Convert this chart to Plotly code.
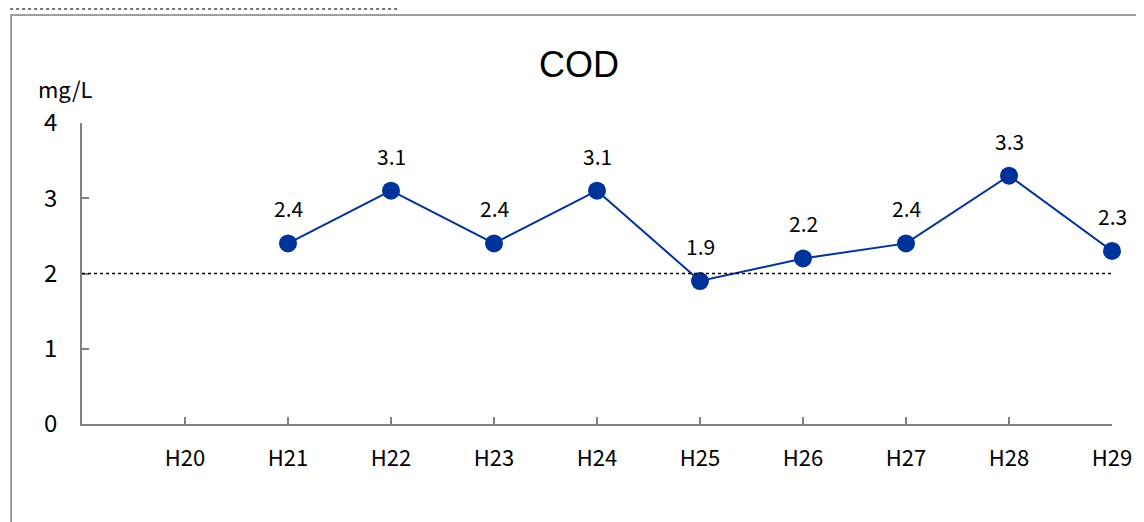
import plotly.graph_objects as go

categories = ["H20", "H21", "H22", "H23", "H24", "H25", "H26", "H27", "H28", "H29"]
cod_values = [None, 2.4, 3.1, 2.4, 3.1, 1.9, 2.2, 2.4, 3.3, 2.3]
standard_value = 2
y_ticks = [0, 1, 2, 3, 4]

FONT = "Noto Sans CJK JP"
BLUE = "#003399"
GRAY = "#808080"

xs = list(range(len(categories)))
pts_x = [x for x, v in zip(xs, cod_values) if v is not None]
pts_y = [v for v in cod_values if v is not None]

fig = go.Figure()
fig.add_trace(go.Scatter(
    x=pts_x, y=pts_y, mode="lines+markers",
    line=dict(color=BLUE, width=2),
    marker=dict(color=BLUE, size=18),
    showlegend=False, hoverinfo="skip", cliponaxis=False,
))

annotations = []
for x, v in zip(pts_x, pts_y):
    annotations.append(dict(x=x, y=v, xref="x", yref="y", text=f"{v:.1f}",
                            showarrow=False, yshift=35,
                            font=dict(family=FONT, size=21, color="black")))
annotations.append(dict(x=0.4826, y=1.1927, xref="paper", yref="paper", text="COD",
                        xanchor="center", yanchor="middle", showarrow=False,
                        font=dict(family="Liberation Sans, Arial", size=36, color="black")))
annotations.append(dict(x=-0.0165, y=1.117, xref="paper", yref="paper", text="mg/L",
                        xanchor="center", yanchor="middle", showarrow=False,
                        font=dict(family=FONT, size=22, color="black")))

shapes = [
    # reference line
    dict(type="line", xref="x", yref="y", x0=-1, x1=len(categories) - 1,
         y0=standard_value, y1=standard_value,
         line=dict(color="black", width=1.5, dash="dot")),
    # outer frame
    dict(type="rect", xref="paper", yref="paper", x0=-0.0688, x1=1.06,
         y0=-0.4, y1=1.3588, line=dict(color=GRAY, width=1.5)),
    # top dotted line
    dict(type="line", xref="paper", yref="paper", x0=-0.0698, x1=0.308,
         y0=1.3787, y1=1.3787, line=dict(color="#444444", width=1.5, dash="dot")),
]

fig.update_layout(
    width=1136, height=514,
    margin=dict(l=74, r=30, t=115, b=98),
    paper_bgcolor="white", plot_bgcolor="white",
    annotations=annotations, shapes=shapes,
    font=dict(family=FONT, color="black"),
)
fig.update_xaxes(
    range=[-1, len(categories) - 1], tickvals=xs, ticktext=categories,
    showgrid=False, zeroline=False, showline=True, linecolor=GRAY, linewidth=1.5,
    ticks="inside", ticklen=7, tickcolor=GRAY, tickwidth=1.5,
    tickfont=dict(family=FONT, size=22, color="black"), ticklabelstandoff=14,
)
fig.update_yaxes(
    range=[0, 4], tickvals=y_ticks,
    showgrid=False, zeroline=False, showline=True, linecolor=GRAY, linewidth=1.5,
    ticks="inside", ticklen=7, tickcolor=GRAY, tickwidth=1.5,
    tickfont=dict(family=FONT, size=24, color="black"), ticklabelstandoff=18,
)

fig.write_html("out.html")
